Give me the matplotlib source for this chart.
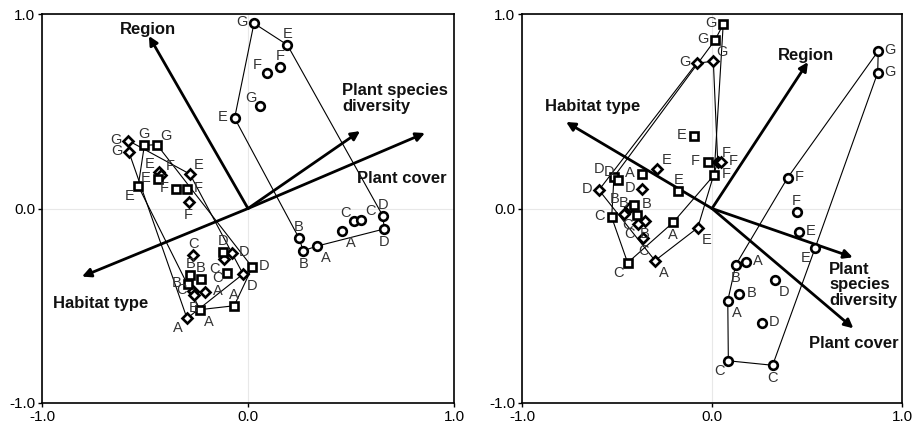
import matplotlib.pyplot as plt

plt.rcParams['font.family'] = ['Liberation Sans', 'DejaVu Sans']

# ---------------- left ordination ----------------
# diamonds
l_dia_lab = ['G', 'G', 'E', 'E', 'F', 'F', 'C', 'D', 'C', 'D', 'C', 'A', 'A', 'B']
l_dia_x = [-0.581, -0.578, -0.282, -0.432, -0.422, -0.288, -0.266, -0.078, -0.117, -0.024, -0.266, -0.207, -0.296, -0.262]
l_dia_y = [0.349, 0.290, 0.177, 0.188, 0.172, 0.035, -0.238, -0.230, -0.258, -0.337, -0.423, -0.429, -0.565, -0.445]
l_dia_pos = ['l', 'l', 'ur', 'ul', 'ur', 'b', 'a', 'r', 'bl', 'br', 'l', 'r', 'bl', 'b']
l_dia_hull = [0, 1, 12, 9, 2]

# squares
l_sq_lab = ['G', 'G', 'E', 'E', 'F', 'F', 'D', 'C', 'D', 'B', 'B', 'B', 'A', 'A']
l_sq_x = [-0.503, -0.442, -0.438, -0.533, -0.350, -0.298, -0.120, -0.103, 0.021, -0.280, -0.230, -0.290, -0.233, -0.067]
l_sq_y = [0.325, 0.328, 0.153, 0.116, 0.100, 0.099, -0.222, -0.332, -0.302, -0.342, -0.364, -0.388, -0.520, -0.500]
l_sq_pos = ['a', 'ur', 'l', 'bl', 'l', 'r', 'a', 'lb', 'r', 'a', 'a', 'l', 'br', 'a']
l_sq_hull = [0, 1, 8, 13, 12, 3]

# circles
l_ci_lab = ['G', 'E', 'F', 'F', 'G', 'E', 'D', 'D', 'C', 'C', 'A', 'B', 'B', 'A']
l_ci_x = [0.029, 0.191, 0.091, 0.155, 0.060, -0.065, 0.654, 0.662, 0.515, 0.549, 0.455, 0.248, 0.268, 0.336]
l_ci_y = [0.952, 0.841, 0.698, 0.726, 0.527, 0.465, -0.037, -0.105, -0.063, -0.059, -0.114, -0.153, -0.217, -0.193]
l_ci_pos = ['l', 'a', 'ul', 'a', 'ul', 'l', 'a', 'b', 'ul', 'ur', 'br', 'a', 'b', 'br']
l_ci_hull = [0, 1, 6, 7, 13, 12, 11, 5]

l_vec_names = ['Region', 'Plant species diversity', 'Plant cover', 'Habitat type']
l_vec_x = [-0.481, 0.544, 0.859, -0.806]
l_vec_y = [0.887, 0.398, 0.388, -0.350]

# ---------------- right ordination ----------------
r_dia_lab = ['G', 'G', 'F', 'F', 'E', 'D', 'D', 'B', 'B', 'B', 'C', 'C', 'A', 'E']
r_dia_x = [-0.081, 0.007, 0.030, 0.047, -0.288, -0.595, -0.370, -0.432, -0.463, -0.353, -0.389, -0.363, -0.300, -0.075]
r_dia_y = [0.747, 0.757, 0.241, 0.239, 0.202, 0.095, 0.100, 0.006, -0.030, -0.064, -0.081, -0.153, -0.268, -0.099]
r_dia_pos = ['l', 'ur', 'ur', 'r', 'ur', 'l', 'l', 'ull', 'a', 'b', 'bl', 'b', 'br', 'br']
r_dia_hull = [0, 1, 2, 13, 12, 5]

r_sq_lab = ['G', 'G', 'E', 'F', 'F', 'A', 'D', 'D', 'E', 'B', 'C', 'C', 'A', 'C']
r_sq_x = [0.059, 0.016, -0.096, -0.023, 0.011, -0.367, -0.516, -0.495, -0.177, -0.409, -0.528, -0.395, -0.204, -0.444]
r_sq_y = [0.947, 0.866, 0.373, 0.238, 0.172, 0.177, 0.163, 0.147, 0.090, 0.018, -0.045, -0.033, -0.071, -0.279]
r_sq_pos = ['l', 'l', 'l', 'l', 'r', 'l', 'ull', 'ul', 'a', 'r', 'l', 'bl', 'b', 'bl']
r_sq_hull = [0, 1, 6, 10, 13, 12, 4]

r_ci_lab = ['G', 'G', 'F', 'F', 'E', 'E', 'A', 'B', 'D', 'B', 'A', 'D', 'C', 'C']
r_ci_x = [0.875, 0.872, 0.398, 0.446, 0.456, 0.542, 0.177, 0.125, 0.333, 0.144, 0.083, 0.263, 0.086, 0.319]
r_ci_y = [0.810, 0.698, 0.158, -0.016, -0.121, -0.205, -0.274, -0.290, -0.368, -0.440, -0.474, -0.587, -0.783, -0.806]
r_ci_pos = ['r', 'r', 'r', 'a', 'r', 'bl', 'r', 'b', 'br', 'r', 'br', 'r', 'bl', 'b']
r_ci_hull = [0, 2, 7, 10, 12, 13, 5, 1]

r_vec_names = ['Region', 'Habitat type', 'Plant species diversity', 'Plant cover']
r_vec_x = [0.505, -0.768, 0.741, 0.744]
r_vec_y = [0.753, 0.445, -0.251, -0.616]

# label offsets in pixels (dx, dy up)
offs = {'l': (-12, 1), 'r': (12, 1), 'a': (0, 11), 'b': (0, -13),
        'ul': (-9, 8), 'ull': (-15, 8), 'ur': (9, 9), 'bl': (-9, -10),
        'lb': (-9, -5), 'br': (9, -12)}


def group(ax, xs, ys, labs, pos, hull, marker, ms):
    hx = [xs[i] for i in hull] + [xs[hull[0]]]
    hy = [ys[i] for i in hull] + [ys[hull[0]]]
    ax.plot(hx, hy, color='black', lw=0.8, zorder=2)
    ax.plot(xs, ys, ls='none', marker=marker, ms=ms, mfc='white',
            mec='black', mew=1.9, zorder=4)
    for x, y, t, p in zip(xs, ys, labs, pos):
        ax.annotate(t, (x, y), xytext=offs[p], textcoords='offset pixels',
                    ha='center', va='center', fontsize=10.5, color='#333333', zorder=5)


def vectors(ax, vx, vy):
    for x, y in zip(vx, vy):
        ax.annotate('', xy=(x, y), xytext=(0, 0),
                    arrowprops=dict(arrowstyle='-|>', lw=2, color='black',
                                    mutation_scale=13, shrinkA=0, shrinkB=0),
                    zorder=3)


def frame(ax):
    ax.set_xlim(-1, 1)
    ax.set_ylim(-1, 1)
    ax.set_xticks([-1, 0, 1])
    ax.set_yticks([-1, 0, 1])
    ax.set_xticklabels(['-1.0', '0.0', '1.0'])
    ax.set_yticklabels(['-1.0', '0.0', '1.0'])
    ax.tick_params(direction='out', length=3, width=1, labelsize=11, pad=2)
    ax.grid(True, color='#e8e8e8', lw=0.8)
    ax.set_axisbelow(True)
    for s in ax.spines.values():
        s.set_linewidth(1.2)


fig = plt.figure(figsize=(9.15, 4.26), dpi=100)
axL = fig.add_axes([42 / 915, 23 / 426, 412 / 915, 389 / 426])
axR = fig.add_axes([522 / 915, 23 / 426, 380 / 915, 389 / 426])

for ax in (axL, axR):
    frame(ax)

vectors(axL, l_vec_x, l_vec_y)
group(axL, l_dia_x, l_dia_y, l_dia_lab, l_dia_pos, l_dia_hull, 'D', 5.4)
group(axL, l_sq_x, l_sq_y, l_sq_lab, l_sq_pos, l_sq_hull, 's', 6.4)
group(axL, l_ci_x, l_ci_y, l_ci_lab, l_ci_pos, l_ci_hull, 'o', 6.2)

bold = dict(fontsize=12, fontweight='bold', color='#111111', zorder=6)
axL.text(-0.485, 0.918, 'Region', ha='center', va='center', **bold)
axL.text(0.456, 0.566, 'Plant species\ndiversity', ha='left', va='center', linespacing=1.1, **bold)
axL.text(0.748, 0.152, 'Plant cover', ha='center', va='center', **bold)
axL.text(-0.714, -0.486, 'Habitat type', ha='center', va='center', **bold)

vectors(axR, r_vec_x, r_vec_y)
group(axR, r_dia_x, r_dia_y, r_dia_lab, r_dia_pos, r_dia_hull, 'D', 5.4)
group(axR, r_sq_x, r_sq_y, r_sq_lab, r_sq_pos, r_sq_hull, 's', 6.4)
group(axR, r_ci_x, r_ci_y, r_ci_lab, r_ci_pos, r_ci_hull, 'o', 6.2)

axR.text(0.497, 0.789, 'Region', ha='center', va='center', **bold)
axR.text(-0.626, 0.522, 'Habitat type', ha='center', va='center', **bold)
axR.text(0.616, -0.393, 'Plant\nspecies\ndiversity', ha='left', va='center', linespacing=1.05, **bold)
axR.text(0.747, -0.692, 'Plant cover', ha='center', va='center', **bold)

fig.savefig('out.png', dpi=100)
